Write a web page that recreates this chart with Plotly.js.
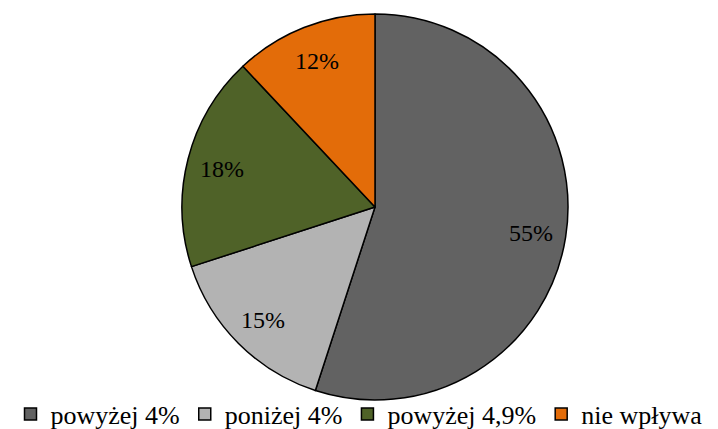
<!DOCTYPE html>
<html>
<head>
<meta charset="utf-8">
<script src="https://cdn.plot.ly/plotly-3.0.1.min.js"></script>
<style>
  html, body { margin: 0; padding: 0; background: #ffffff; }
  #chart { width: 718px; height: 429px; }
</style>
</head>
<body>
<div id="chart"></div>
<script>
// Share of answers per category
const categories = ['powyżej 4%', 'poniżej 4%', 'powyżej 4,9%', 'nie wpływa'];
const shares = [55, 15, 18, 12];
const sliceColors = ['#626262', '#b3b3b3', '#4f6228', '#e36c09'];

const W = 718, H = 429;
const serif = 'Liberation Serif, Times New Roman, serif';

// pie placement in paper fractions
const pieDomain = { x: [182 / W, 568 / W], y: [1 - 400 / H, 1 - 14 / H] };
const cx = (pieDomain.x[0] + pieDomain.x[1]) / 2;
const cy = (pieDomain.y[0] + pieDomain.y[1]) / 2;
const R = Math.min((pieDomain.x[1] - pieDomain.x[0]) * W, (pieDomain.y[1] - pieDomain.y[0]) * H) / 2;
const labelRadius = 0.82;

const trace = {
  type: 'pie',
  labels: categories,
  values: shares,
  sort: false,
  direction: 'clockwise',
  rotation: 0,
  marker: { colors: sliceColors, line: { color: '#000000', width: 1.5 } },
  textposition: 'none',
  hoverinfo: 'label+percent',
  domain: pieDomain
};

// percentage labels at each slice's mid angle (clockwise from 12 o'clock)
const total = shares.reduce((a, b) => a + b, 0);
let cum = 0;
const annotations = shares.map((v) => {
  const mid = (cum + v / 2) / total * 2 * Math.PI;
  cum += v;
  return {
    xref: 'paper', yref: 'paper',
    x: cx + labelRadius * R * Math.sin(mid) / W,
    y: cy + labelRadius * R * Math.cos(mid) / H,
    xanchor: 'center', yanchor: 'middle',
    yshift: -1,
    text: v + '%',
    showarrow: false,
    font: { family: serif, size: 24, color: '#000000' }
  };
});

const layout = {
  width: W,
  height: H,
  margin: { l: 0, r: 0, t: 0, b: 0, autoexpand: false },
  paper_bgcolor: '#ffffff',
  showlegend: true,
  legend: {
    orientation: 'h',
    x: 0.5,
    xanchor: 'center',
    y: -0.02,
    yanchor: 'bottom',
    bgcolor: 'rgba(0,0,0,0)',
    font: { family: serif, size: 26, color: '#000000' },
    itemwidth: 30,
    tracegroupgap: 0
  },
  annotations: annotations,
  font: { family: serif }
};

Plotly.newPlot('chart', [trace], layout, { displayModeBar: false, staticPlot: true });
</script>
</body>
</html>
